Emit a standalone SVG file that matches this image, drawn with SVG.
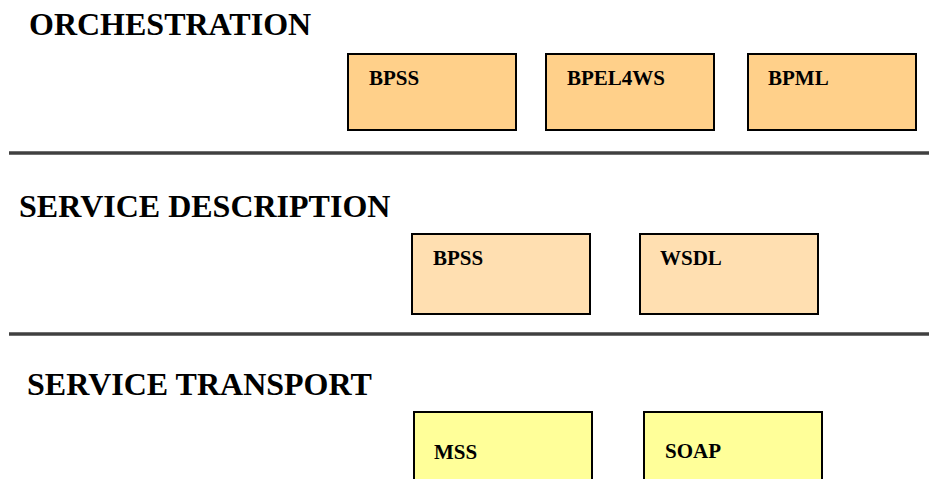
<svg xmlns="http://www.w3.org/2000/svg" width="929" height="479" viewBox="0 0 929 479">
<style>
.title{font-family:"Liberation Serif","Times New Roman",serif;font-weight:bold;font-size:32px;fill:#000}
.lbl{font-family:"Liberation Serif","Times New Roman",serif;font-weight:bold;font-size:21px;fill:#000}
.box{stroke:#000;stroke-width:2}
.orch{fill:#FFD08A}
.desc{fill:#FFDFB1}
.trans{fill:#FFFF99}
.sep{stroke:#404040;stroke-width:3.5}
</style>
<rect width="929" height="479" fill="#fff"/>
<g id="layers">
<text class="title" x="29" y="35">ORCHESTRATION</text>
<text class="title" x="19" y="217">SERVICE DESCRIPTION</text>
<text class="title" x="27" y="395">SERVICE TRANSPORT</text>
<line class="sep" x1="9" y1="153" x2="929" y2="153"/>
<line class="sep" x1="9" y1="334" x2="929" y2="334"/>
</g>
<g id="orch-bpss"><rect class="box orch" x="348" y="54" width="168" height="76"/><text class="lbl" x="369" y="85">BPSS</text></g>
<g id="orch-bpel4ws"><rect class="box orch" x="546" y="54" width="168" height="76"/><text class="lbl" x="567" y="85">BPEL4WS</text></g>
<g id="orch-bpml"><rect class="box orch" x="748" y="54" width="168" height="76"/><text class="lbl" x="768" y="85">BPML</text></g>
<g id="desc-bpss"><rect class="box desc" x="412" y="234" width="178" height="80"/><text class="lbl" x="433" y="265">BPSS</text></g>
<g id="desc-wsdl"><rect class="box desc" x="640" y="234" width="178" height="80"/><text class="lbl" x="660" y="265">WSDL</text></g>
<g id="trans-mss"><rect class="box trans" x="414" y="412" width="178" height="80"/><text class="lbl" x="434" y="459">MSS</text></g>
<g id="trans-soap"><rect class="box trans" x="644" y="412" width="178" height="80"/><text class="lbl" x="665" y="458">SOAP</text></g>
<g id="connectors"></g>
</svg>
